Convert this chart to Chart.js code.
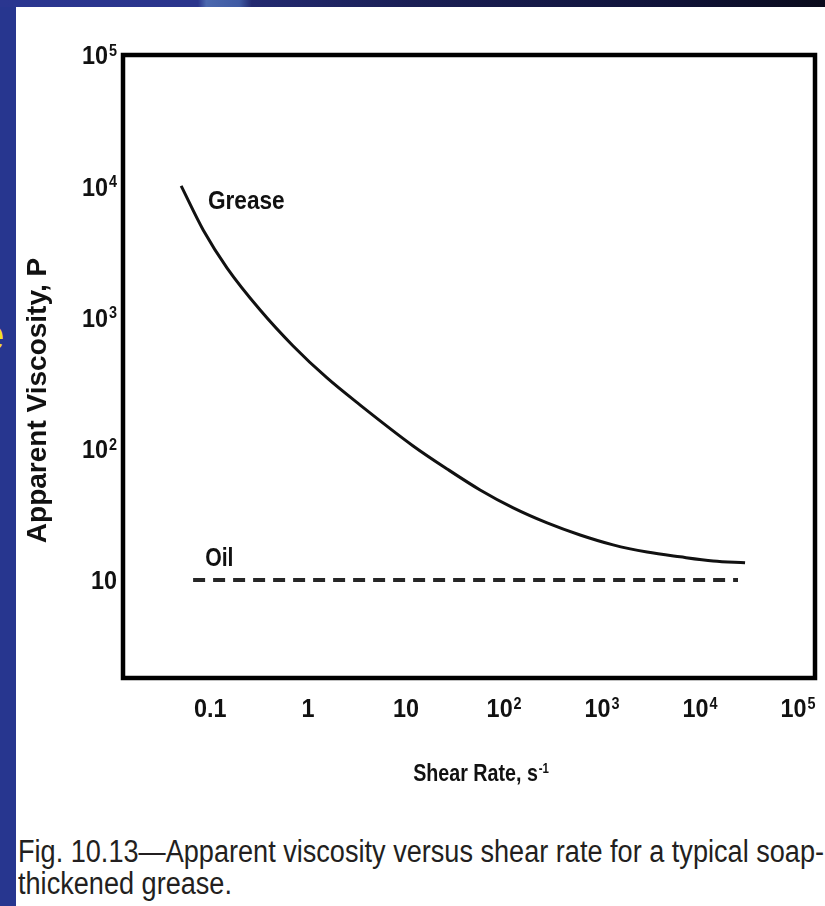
<!DOCTYPE html>
<html>
<head>
<meta charset="utf-8">
<title>Apparent viscosity vs shear rate</title>
<script src="https://cdn.jsdelivr.net/npm/chart.js@4.4.1/dist/chart.umd.min.js"></script>
<style>
  html, body { margin: 0; padding: 0; background: #fff; width: 825px; height: 906px; overflow: hidden; position: relative; }
  /* slide frame behind the figure */
  .side { position: absolute; left: 0; top: 0; width: 16px; height: 906px; background: #27368f; }
  .topbar { position: absolute; left: 0; top: 0; width: 825px; height: 7px;
    background: linear-gradient(90deg, #2a3690 0, #2a358c 24%, #4b68ae 25%, #3f5aa3 29%, #232a70 30.5%, #1a1f55 50%, #10133a 80%, #0a0b1c 100%); }
  .glyph { position: absolute; left: -20px; top: 310px; font: 44px "Liberation Sans", Arial, sans-serif; color: #f2e01c; }
  #chart { position: absolute; left: 0; top: 0; }
  .caption { position: absolute; left: 18px; top: 836px; color: #231f20; white-space: nowrap;
    font: 31px/32px "Liberation Sans", Arial, sans-serif; transform-origin: 0 0; }
</style>
</head>
<body>
<div class="side"></div>
<div class="topbar"></div>
<div class="glyph">e</div>
<canvas id="chart" width="825" height="800"></canvas>
<div class="caption" id="caption">
  <div id="capLine1">Fig. 10.13—Apparent viscosity versus shear rate for a typical soap-</div>
  <div>thickened grease.</div>
</div>
<script>
// Data (log-log axes)
const greaseShear = [0.0506, 0.0849, 0.149, 0.324, 0.703, 1.56, 3.40, 11.8, 26.2, 56.9, 124, 275, 597, 1295, 2880, 6250, 13600, 28800];
const greaseViscosity = [10050, 4640, 2380, 1140, 607, 346, 215, 105, 70.1, 48.5, 35.4, 27.2, 22.0, 18.5, 16.3, 15.0, 13.96, 13.5];
const oilShear = [0.067, 24400];
const oilViscosity = [10, 10];

// '^' marks an exponent, drawn raised and smaller
const xTickValues = [0.1, 1, 10, 100, 1000, 10000, 100000];
const xTickLabels = ['0.1', '1', '10', '10^2', '10^3', '10^4', '10^5'];
const yTickValues = [10, 100, 1000, 10000, 100000];
const yTickLabels = ['10', '10^2', '10^3', '10^4', '10^5'];

const xTitle = 'Shear Rate, s^-1';
const yTitle = 'Apparent Viscosity, P';

// where the curve names sit, in data units
const greaseLabelAt = [0.095, 7850];
const oilLabelAt = [0.089, 14.9];

const FONT = '"Liberation Sans", Arial, Helvetica, sans-serif';
const INK = '#111';

// bold, slightly condensed text; y is the middle of the capitals
function drawText(ctx, text, x, y, size, squeeze, align) {
  const [base, exp] = text.split('^');
  const supSize = Math.round(size * 0.6);
  ctx.font = `bold ${size}px ${FONT}`;
  const wb = ctx.measureText(base).width;
  let we = 0;
  if (exp) {
    ctx.font = `bold ${supSize}px ${FONT}`;
    we = ctx.measureText(exp).width + 1;
  }
  const total = (wb + we) * squeeze;
  const left = align === 'center' ? x - total / 2 : align === 'right' ? x - total : x;
  ctx.save();
  ctx.translate(left, y + size * 0.358);
  ctx.scale(squeeze, 1);
  ctx.fillStyle = INK;
  ctx.textAlign = 'left';
  ctx.textBaseline = 'alphabetic';
  ctx.font = `bold ${size}px ${FONT}`;
  ctx.fillText(base, 0, 0);
  if (exp) {
    ctx.font = `bold ${supSize}px ${FONT}`;
    ctx.fillText(exp, wb + 1, -size * 0.32);
  }
  ctx.restore();
}

// box frame, tick labels, curve names and axis titles
const frameAndText = {
  id: 'frameAndText',
  afterDatasetsDraw(chart) {
    const { ctx, chartArea: a, scales: { x, y } } = chart;
    ctx.save();
    ctx.lineWidth = 4.5;
    ctx.strokeStyle = '#000';
    ctx.strokeRect(a.left, a.top, a.right - a.left, a.bottom - a.top);
    ctx.restore();

    xTickValues.forEach((v, i) => drawText(ctx, xTickLabels[i], x.getPixelForValue(v), a.bottom + 30, 26, 0.9, 'center'));
    yTickValues.forEach((v, i) => drawText(ctx, yTickLabels[i], a.left - 6, y.getPixelForValue(v), 26, 0.9, 'right'));

    drawText(ctx, 'Grease', x.getPixelForValue(greaseLabelAt[0]), y.getPixelForValue(greaseLabelAt[1]), 26, 0.87, 'left');
    drawText(ctx, 'Oil', x.getPixelForValue(oilLabelAt[0]), y.getPixelForValue(oilLabelAt[1]), 25, 0.85, 'left');

    drawText(ctx, xTitle, (a.left + a.right) / 2 + 12, a.bottom + 94, 24, 0.82, 'center');

    ctx.save();
    ctx.translate(38, (a.top + a.bottom) / 2 + 34);
    ctx.rotate(-Math.PI / 2);
    ctx.fillStyle = INK;
    ctx.textAlign = 'center';
    ctx.textBaseline = 'middle';
    ctx.font = `bold 28px ${FONT}`;
    ctx.fillText(yTitle, 0, 0);
    ctx.restore();
  }
};

new Chart(document.getElementById('chart'), {
  type: 'line',
  data: {
    datasets: [
      {
        label: 'Grease',
        data: greaseShear.map((s, i) => ({ x: s, y: greaseViscosity[i] })),
        borderColor: INK,
        borderWidth: 3,
        pointRadius: 0,
        cubicInterpolationMode: 'monotone',
        fill: false
      },
      {
        label: 'Oil',
        data: oilShear.map((s, i) => ({ x: s, y: oilViscosity[i] })),
        borderColor: '#262626',
        borderWidth: 4,
        borderDash: [12, 8],
        pointRadius: 0,
        fill: false
      }
    ]
  },
  options: {
    responsive: false,
    animation: false,
    layout: { padding: { top: 55, right: 10, left: 0, bottom: 0 } },
    plugins: { legend: { display: false }, tooltip: { enabled: false } },
    scales: {
      x: {
        type: 'logarithmic',
        min: 0.0129,
        max: 149000,
        afterBuildTicks: s => { s.ticks = xTickValues.map(v => ({ value: v })); },
        afterFit: s => { s.height = 122; s.paddingLeft = 0; s.paddingRight = 0; },
        ticks: { display: false },
        grid: { display: false, drawTicks: false },
        border: { display: false }
      },
      y: {
        type: 'logarithmic',
        min: 1.79,
        max: 100000,
        afterBuildTicks: s => { s.ticks = yTickValues.map(v => ({ value: v })); },
        afterFit: s => { s.width = 123; s.paddingTop = 0; s.paddingBottom = 0; },
        ticks: { display: false },
        grid: { display: false, drawTicks: false },
        border: { display: false }
      }
    }
  },
  plugins: [frameAndText]
});

// squeeze the caption to the width of the printed one
const cap = document.getElementById('caption');
const w = document.getElementById('capLine1').getBoundingClientRect().width;
cap.style.transform = 'scaleX(' + (806 / w) + ')';
</script>
</body>
</html>
